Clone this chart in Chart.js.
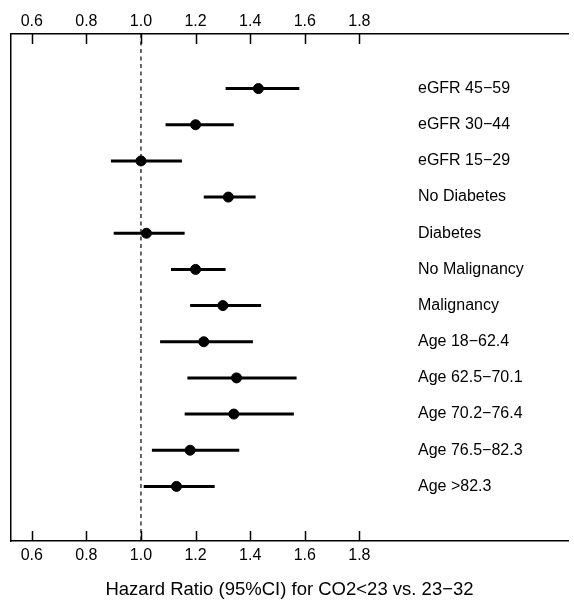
<!DOCTYPE html>
<html>
<head>
<meta charset="utf-8">
<script src="https://cdn.jsdelivr.net/npm/chart.js@4/dist/chart.umd.min.js"></script>
<style>
  html, body { margin: 0; padding: 0; background: #fff; }
  #wrap { width: 574px; height: 601px; }
</style>
</head>
<body>
<div id="wrap"><canvas id="forest" width="574" height="601"></canvas></div>
<script>
// Subgroups, top to bottom
const subgroups = [
    'eGFR 45\u221259', 'eGFR 30\u221244', 'eGFR 15\u221229',
    'No Diabetes', 'Diabetes', 'No Malignancy', 'Malignancy',
    'Age 18\u221262.4', 'Age 62.5\u221270.1', 'Age 70.2\u221276.4',
    'Age 76.5\u221282.3', 'Age >82.3',
];
const hazardRatio = [1.43, 1.20, 1.00, 1.32, 1.02, 1.20, 1.30, 1.23, 1.35, 1.34, 1.18, 1.13];
const ciLower     = [1.31, 1.09, 0.89, 1.23, 0.90, 1.11, 1.18, 1.07, 1.17, 1.16, 1.04, 1.01];
const ciUpper     = [1.58, 1.34, 1.15, 1.42, 1.16, 1.31, 1.44, 1.41, 1.57, 1.56, 1.36, 1.27];
const tickValues  = [0.6, 0.8, 1.0, 1.2, 1.4, 1.6, 1.8];
const refValue = 1.0;
const axisTitle = 'Hazard Ratio (95%CI) for CO2<23 vs. 23\u221232';

const X_MIN = 0.524, X_MAX = 2.564;
const Y_MIN = -0.51, Y_MAX = 13.51;
const FONT = "'Liberation Sans', Arial, sans-serif";

Chart.defaults.color = '#000';
Chart.defaults.font.family = FONT;

// rows sit at y = 1..12
const rowY = subgroups.map((_, i) => i + 1);

// CI segments, broken by empty points
const ciSegments = [];
rowY.forEach((y, i) => {
    ciSegments.push({ x: ciLower[i], y: y });
    ciSegments.push({ x: ciUpper[i], y: y });
    ciSegments.push({ x: null, y: null });
});

const estimates = rowY.map((y, i) => ({ x: hazardRatio[i], y: y }));

// inward tick marks plus the subgroup labels on the right
const forestExtras = {
    id: 'forestExtras',
    afterDatasetsDraw(chart) {
        const { ctx, chartArea, scales } = chart;
        ctx.save();
        ctx.strokeStyle = '#000';
        ctx.lineWidth = 1.5;
        [['x', chartArea.bottom, -10], ['x2', chartArea.top, 10]].forEach(([id, base, len]) => {
            scales[id].ticks.forEach(t => {
                const px = Math.round(scales[id].getPixelForValue(t.value)) + 0.5;
                ctx.beginPath();
                ctx.moveTo(px, base);
                ctx.lineTo(px, base + len);
                ctx.stroke();
            });
        });
        ctx.fillStyle = '#000';
        ctx.font = '16px ' + FONT;
        ctx.textAlign = 'left';
        ctx.textBaseline = 'middle';
        subgroups.forEach((name, i) => {
            ctx.fillText(name, 418, scales.y.getPixelForValue(rowY[i]));
        });
        ctx.restore();
    }
};

const tickOpts = (pad) => ({
    font: { size: 16 },
    color: '#000',
    maxRotation: 0,
    padding: pad,
    callback: (v) => Number(v).toFixed(1),
});

const xAxis = (position, extra) => Object.assign({
    type: 'linear',
    position: position,
    min: X_MIN,
    max: X_MAX,
    grid: { display: false, drawTicks: false },
    border: { display: true, color: '#000', width: 1.5 },
    afterBuildTicks: (scale) => { scale.ticks = tickValues.map(v => ({ value: v })); },
}, extra);

new Chart(document.getElementById('forest'), {
    type: 'scatter',
    data: {
        datasets: [
            {
                label: 'reference',
                data: [{ x: refValue, y: Y_MIN }, { x: refValue, y: Y_MAX }],
                showLine: true,
                borderColor: '#000',
                borderWidth: 1.2,
                borderDash: [4, 3.5],
                pointRadius: 0,
            },
            {
                label: '95% CI',
                data: ciSegments,
                showLine: true,
                spanGaps: false,
                borderColor: '#000',
                borderWidth: 3,
                pointRadius: 0,
            },
            {
                label: 'HR',
                data: estimates,
                backgroundColor: '#000',
                borderColor: '#000',
                pointRadius: 5,
                pointHoverRadius: 5,
            },
        ]
    },
    options: {
        responsive: false,
        animation: false,
        events: [],
        layout: { padding: 0 },
        plugins: {
            legend: { display: false },
            tooltip: { enabled: false },
        },
        scales: {
            x: xAxis('bottom', {
                afterFit: (scale) => { scale.height = 60; },
                ticks: tickOpts(5),
                title: {
                    display: true,
                    text: axisTitle,
                    font: { size: 18.5 },
                    color: '#000',
                    padding: { top: 0, bottom: 0 },
                },
            }),
            x2: xAxis('top', {
                afterFit: (scale) => { scale.height = 34; },
                ticks: tickOpts(3),
            }),
            y: {
                type: 'linear',
                position: 'left',
                reverse: true,
                min: Y_MIN,
                max: Y_MAX,
                grid: { display: false, drawTicks: false },
                border: { display: true, color: '#000', width: 1.5 },
                ticks: { display: false },
                afterFit: (scale) => { scale.width = 11; },
            },
        }
    },
    plugins: [forestExtras]
});
</script>
</body>
</html>
